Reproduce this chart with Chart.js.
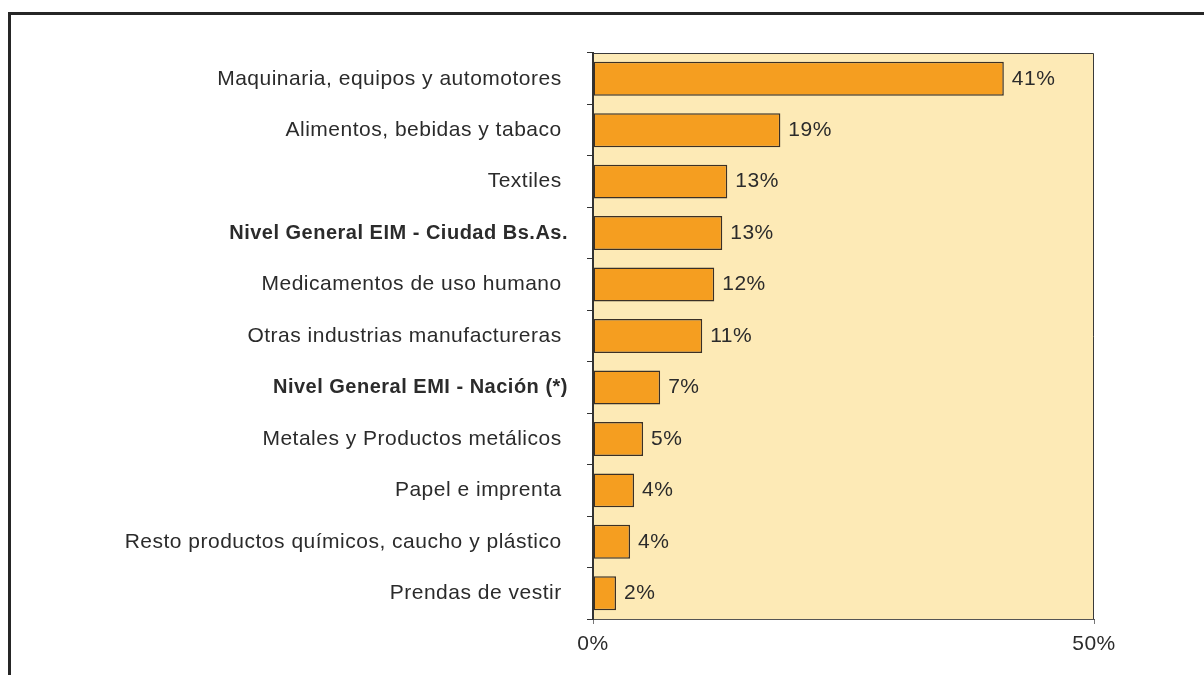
<!DOCTYPE html>
<html>
<head>
<meta charset="utf-8">
<script src="https://cdn.jsdelivr.net/npm/chart.js@4/dist/chart.umd.min.js"></script>
<style>
    html, body { margin: 0; padding: 0; background: #ffffff; }
    #wrap { width: 1204px; height: 675px; position: relative; }
</style>
</head>
<body>
<div id="wrap"><canvas id="chart"></canvas></div>
<script>
const categories = [
    'Maquinaria, equipos y automotores ',
    'Alimentos, bebidas y tabaco ',
    'Textiles ',
    'Nivel General EIM - Ciudad Bs.As.',
    'Medicamentos de uso humano ',
    'Otras industrias manufactureras ',
    'Nivel General EMI - Nación (*)',
    'Metales y Productos metálicos ',
    'Papel e imprenta ',
    'Resto productos químicos, caucho y plástico ',
    'Prendas de vestir '
];
const shares = [41.0, 18.7, 13.4, 12.9, 12.1, 10.9, 6.7, 5.0, 4.1, 3.7, 2.3];
const boldRows = [3, 6];
const xTicks = [0, 50];

const FONT = '"Liberation Sans", Arial, sans-serif';
const TEXT = '#2b2b2b';

// yellow plot background + frame of the figure
const backdrop = {
    id: 'backdrop',
    beforeDraw(chart) {
        const { ctx, chartArea: a } = chart;
        ctx.letterSpacing = '0.5px';
        ctx.save();
        ctx.fillStyle = '#fdeab6';
        ctx.fillRect(a.left, a.top, a.right - a.left, a.bottom - a.top);
        ctx.strokeStyle = '#3a3a3a';
        ctx.lineWidth = 1;
        ctx.beginPath();
        ctx.moveTo(a.left, a.top + 0.5);
        ctx.lineTo(a.right - 0.5, a.top + 0.5);
        ctx.lineTo(a.right - 0.5, a.bottom);
        ctx.stroke();
        ctx.restore();
    },
    afterDraw(chart) {
        const ctx = chart.ctx;
        ctx.save();
        ctx.fillStyle = '#262626';
        ctx.fillRect(8, 12, 3, chart.height);
        ctx.fillRect(8, 12, chart.width, 3);
        ctx.restore();
    }
};

// percentage labels next to the bars
const valueLabels = {
    id: 'valueLabels',
    afterDatasetsDraw(chart) {
        const ctx = chart.ctx;
        const meta = chart.getDatasetMeta(0);
        ctx.save();
        ctx.font = '21px ' + FONT;
        ctx.fillStyle = TEXT;
        ctx.textAlign = 'left';
        ctx.textBaseline = 'middle';
        meta.data.forEach((bar, i) => {
            ctx.fillText(Math.round(shares[i]) + '%', bar.x + 8, bar.y);
        });
        ctx.restore();
    }
};

new Chart(document.getElementById('chart'), {
    type: 'bar',
    data: {
        labels: categories,
        datasets: [{
            data: shares,
            backgroundColor: '#f59e20',
            borderColor: '#3a3026',
            borderWidth: 1.5,
            borderSkipped: false,
            barPercentage: 0.66,
            categoryPercentage: 1
        }]
    },
    options: {
        indexAxis: 'y',
        responsive: true,
        maintainAspectRatio: false,
        animation: false,
        layout: { padding: { top: 53, right: 110, left: 0, bottom: 0 } },
        plugins: {
            legend: { display: false },
            tooltip: { enabled: false }
        },
        scales: {
            x: {
                min: 0,
                max: 50,
                afterBuildTicks: (scale) => {
                    scale.ticks = xTicks.map(v => ({ value: v }));
                },
                afterFit: (scale) => { scale.height = 56; },
                grid: {
                    drawOnChartArea: false,
                    color: '#777777',
                    tickLength: 5
                },
                border: { color: '#555555', width: 1 },
                ticks: {
                    padding: 8,
                    color: TEXT,
                    font: { family: FONT, size: 21 },
                    callback: (v) => v + '%'
                }
            },
            y: {
                afterFit: (scale) => { scale.width = 593; },
                grid: {
                    offset: true,
                    drawOnChartArea: false,
                    color: '#333333',
                    tickLength: 6
                },
                border: { color: '#333333', width: 2 },
                ticks: {
                    padding: 19,
                    color: TEXT,
                    font: (ctx) => ({
                        family: FONT,
                        size: boldRows.includes(ctx.index) ? 20 : 21,
                        weight: boldRows.includes(ctx.index) ? 'bold' : 'normal'
                    })
                }
            }
        }
    },
    plugins: [backdrop, valueLabels]
});
</script>
</body>
</html>
